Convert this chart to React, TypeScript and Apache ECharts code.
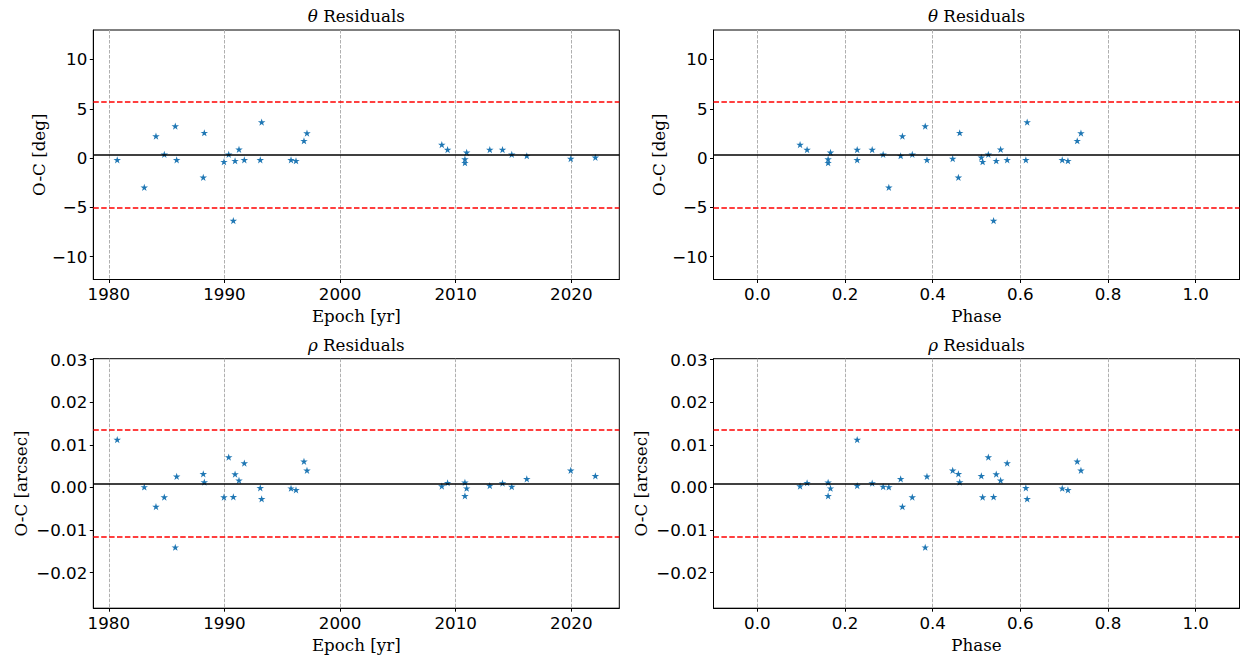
import React, { useEffect, useRef } from "react";
import * as echarts from "echarts";

// ---- data ----
const epoch = [1980.73, 1983.07, 1984.08, 1984.8, 1985.75, 1985.87, 1988.17, 1988.26, 1989.96, 1990.37, 1990.77, 1990.92, 1991.26, 1991.72, 1993.1, 1993.22, 1995.76, 1996.19, 1996.88, 1997.14, 2008.8, 2009.3, 2010.8, 2010.8, 2010.95, 2012.95, 2014.05, 2014.85, 2016.15, 2019.95, 2022.08];
const phase = [0.2278, 0.3, 0.331, 0.3535, 0.383, 0.387, 0.4587, 0.4617, 0.514, 0.527, 0.539, 0.545, 0.555, 0.57, 0.6126, 0.6156, 0.6956, 0.7086, 0.7298, 0.7383, 0.0975, 0.1135, 0.1615, 0.1615, 0.1669, 0.2278, 0.262, 0.287, 0.327, 0.4457, 0.511];
const dTheta = [-0.17, -2.97, 2.23, 0.38, 3.25, -0.17, -1.96, 2.57, -0.37, 0.38, -6.35, -0.27, 0.88, -0.17, -0.17, 3.65, -0.17, -0.27, 1.76, 2.54, 1.36, 0.85, -0.1, -0.47, 0.58, 0.85, 0.85, 0.38, 0.24, -0.06, 0.07];
const dRho = [0.0112, 0.0001, -0.0045, -0.0023, -0.01405, 0.0026, 0.0032, 0.00125, -0.0023, 0.0071, -0.0022, 0.0031, 0.00165, 0.0057, -0.0001, -0.0027, -0.0002, -0.0006, 0.0061, 0.004, 0.0003, 0.0011, 0.0012, -0.002, -0.0002, 0.0004, 0.001, 0.0002, 0.002, 0.004, 0.0027];

const thetaMean = 0.34;
const thetaUpper = 5.76;
const thetaLower = -5.08;
const rhoMean = 0.00093;
const rhoUpper = 0.01348;
const rhoLower = -0.01162;

const epochRange = [1978.66, 2024.15];
const phaseRange = [-0.1, 1.1];
const thetaRange = [-12.31, 12.99];
const rhoRange = [-0.02835, 0.03021];

const epochTicks = [1980, 1990, 2000, 2010, 2020];
const phaseTicks = [0, 0.2, 0.4, 0.6, 0.8, 1.0];
const thetaTicks = [-10, -5, 0, 5, 10];
const rhoTicks = [-0.02, -0.01, 0, 0.01, 0.02, 0.03];

const STAR = "path://M0,-1L0.2245,-0.309L0.951,-0.309L0.3633,0.118L0.588,0.809L0,0.382L-0.588,0.809L-0.3633,0.118L-0.951,-0.309L-0.2245,-0.309Z";

const SANS = "DejaVu Sans";
const SERIF = "DejaVu Serif";
const FS = 16.7;

const minus = (s: string) => s.replace("-", "\u2212");

export default function App() {
  const ref = useRef<HTMLDivElement>(null);
  useEffect(() => {
    if (!ref.current) return;
    const chart = echarts.init(ref.current, undefined, { renderer: "svg" });

    const W = 526;
    const H = 249.5;
    const grids = [
      { left: 93.3, top: 30 },
      { left: 713.5, top: 30 },
      { left: 93.3, top: 358.7 },
      { left: 713.5, top: 358.7 },
    ];

    const xDefs = [
      { range: epochRange, ticks: epochTicks, name: "Epoch [yr]", fmt: (v: number) => String(v) },
      { range: phaseRange, ticks: phaseTicks, name: "Phase", fmt: (v: number) => minus(v.toFixed(1)) },
      { range: epochRange, ticks: epochTicks, name: "Epoch [yr]", fmt: (v: number) => String(v) },
      { range: phaseRange, ticks: phaseTicks, name: "Phase", fmt: (v: number) => minus(v.toFixed(1)) },
    ];
    const yDefs = [
      { range: thetaRange, ticks: thetaTicks, name: "O-C [deg]", gap: 46, fmt: (v: number) => minus(String(v)) },
      { range: thetaRange, ticks: thetaTicks, name: "O-C [deg]", gap: 46, fmt: (v: number) => minus(String(v)) },
      { range: rhoRange, ticks: rhoTicks, name: "O-C [arcsec]", gap: 64, fmt: (v: number) => minus(v.toFixed(2)) },
      { range: rhoRange, ticks: rhoTicks, name: "O-C [arcsec]", gap: 64, fmt: (v: number) => minus(v.toFixed(2)) },
    ];

    const xs = [epoch, phase, epoch, phase];
    const ys = [dTheta, dTheta, dRho, dRho];
    const lines = [
      [thetaMean, thetaUpper, thetaLower],
      [thetaMean, thetaUpper, thetaLower],
      [rhoMean, rhoUpper, rhoLower],
      [rhoMean, rhoUpper, rhoLower],
    ];

    const titleTops = [6, 6, 334.5, 334.5];
    const titleTexts = ["{i|\u03b8} Residuals", "{i|\u03b8} Residuals", "{i|\u03c1} Residuals", "{i|\u03c1} Residuals"];

    const option: any = {
      animation: false,
      backgroundColor: "#fff",
      title: grids.map((g, i) => ({
        text: titleTexts[i],
        left: g.left + W / 2,
        top: titleTops[i],
        textAlign: "center",
        padding: 0,
        textStyle: {
          fontFamily: SERIF,
          fontSize: FS,
          fontWeight: "normal",
          color: "#000",
          lineHeight: 20,
          rich: { i: { fontFamily: SERIF, fontStyle: "italic", fontSize: FS, color: "#000", lineHeight: 20 } },
        },
      })),
      grid: grids.map((g) => ({
        left: g.left,
        top: g.top,
        width: W,
        height: H,
        show: true,
        borderColor: "#000",
        borderWidth: 1,
        backgroundColor: "transparent",
        containLabel: false,
      })),
      xAxis: xDefs.map((d, i) => ({
        type: "value",
        gridIndex: i,
        min: d.range[0],
        max: d.range[1],
        name: d.name,
        nameLocation: "middle",
        nameGap: 28,
        nameTextStyle: { fontFamily: SERIF, fontSize: FS, color: "#000" },
        axisLine: { show: true, onZero: false, lineStyle: { color: "#000", width: 1 } },
        axisTick: { show: true, inside: false, length: 3.5, customValues: d.ticks, lineStyle: { color: "#000", width: 1 } },
        axisLabel: {
          show: true,
          margin: 6,
          customValues: d.ticks,
          formatter: d.fmt,
          fontFamily: SANS,
          fontSize: FS,
          color: "#000",
        },
        splitLine: { show: true, lineStyle: { color: "#b0b0b0", width: 1, type: [3.5, 1.5] } },
      })),
      yAxis: yDefs.map((d, i) => ({
        type: "value",
        gridIndex: i,
        min: d.range[0],
        max: d.range[1],
        name: d.name,
        nameLocation: "middle",
        nameGap: d.gap,
        nameTextStyle: { fontFamily: SERIF, fontSize: FS, color: "#000" },
        axisLine: { show: true, onZero: false, lineStyle: { color: "#000", width: 1 } },
        axisTick: { show: true, inside: false, length: 3.5, customValues: d.ticks, lineStyle: { color: "#000", width: 1 } },
        axisLabel: {
          show: true,
          margin: 6,
          customValues: d.ticks,
          formatter: d.fmt,
          fontFamily: SANS,
          fontSize: FS,
          color: "#000",
        },
        splitLine: { show: false },
      })),
      series: xs.map((xv, i) => ({
        type: "scatter",
        xAxisIndex: i,
        yAxisIndex: i,
        symbol: STAR,
        symbolSize: [7.5, 7.2],
        itemStyle: { color: "#1f77b4", opacity: 1 },
        data: xv.map((x, k) => [x, ys[i][k]]),
        markLine: {
          silent: true,
          precision: 6,
          symbol: ["none", "none"],
          label: { show: false },
          data: [
            { yAxis: lines[i][0], lineStyle: { color: "#000", width: 1.5, type: "solid" } },
            { yAxis: lines[i][1], lineStyle: { color: "#ff0000", width: 1.5, type: [5.5, 2.4] } },
            { yAxis: lines[i][2], lineStyle: { color: "#ff0000", width: 1.5, type: [5.5, 2.4] } },
          ],
        },
      })),
    };

    chart.setOption(option);
    return () => chart.dispose();
  }, []);

  return (
    <div
      ref={ref}
      style={{ position: "fixed", left: 0, top: 0, width: 1241, height: 660, background: "#fff" }}
    />
  );
}
